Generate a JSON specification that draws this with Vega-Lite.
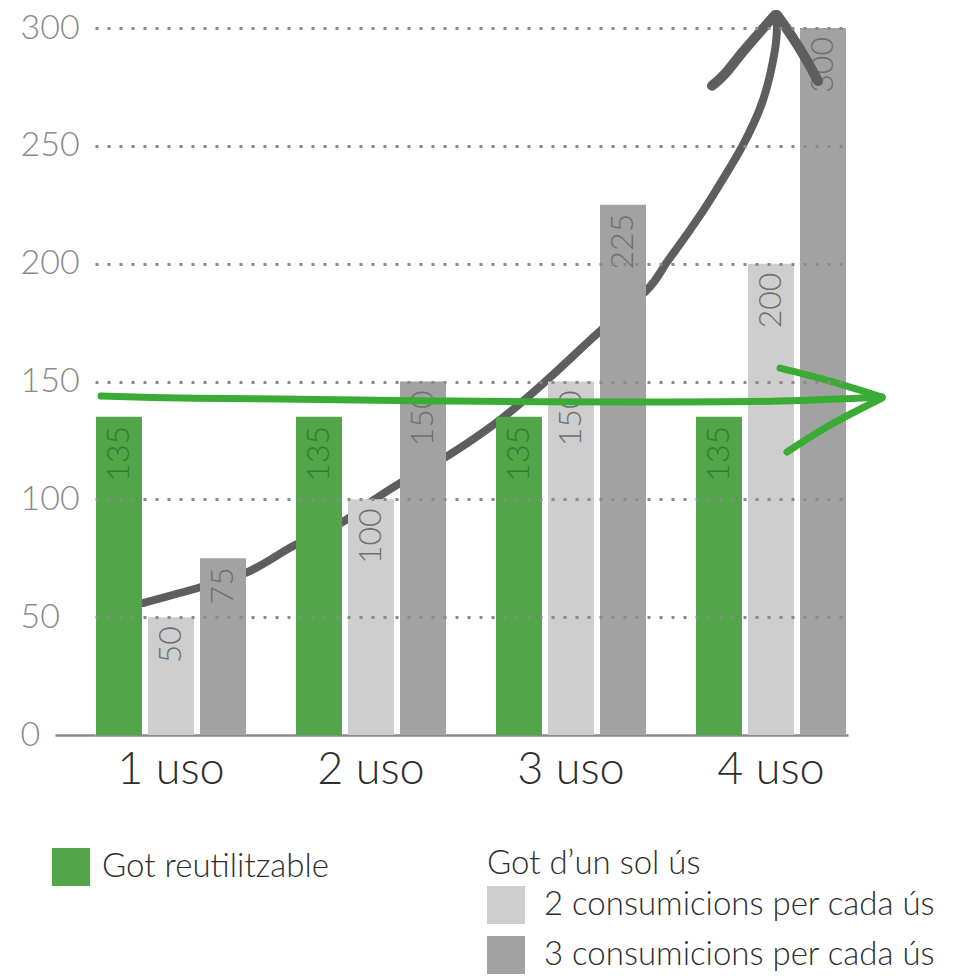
{
  "$schema": "https://vega.github.io/schema/vega-lite/v6.json",
  "width": 753,
  "height": 707,
  "autosize": {"type": "none"},
  "padding": {"left": 95, "top": 28, "right": 106, "bottom": 241},
  "background": "white",
  "config": {"view": {"stroke": null}, "font": "Lato"},
  "datasets": {
    "bars": [
      {"uso": "1 uso", "serie": "Got reutilitzable", "valor": 135},
      {"uso": "1 uso", "serie": "2 consumicions per cada ús", "valor": 50},
      {"uso": "1 uso", "serie": "3 consumicions per cada ús", "valor": 75},
      {"uso": "2 uso", "serie": "Got reutilitzable", "valor": 135},
      {"uso": "2 uso", "serie": "2 consumicions per cada ús", "valor": 100},
      {"uso": "2 uso", "serie": "3 consumicions per cada ús", "valor": 150},
      {"uso": "3 uso", "serie": "Got reutilitzable", "valor": 135},
      {"uso": "3 uso", "serie": "2 consumicions per cada ús", "valor": 150},
      {"uso": "3 uso", "serie": "3 consumicions per cada ús", "valor": 225},
      {"uso": "4 uso", "serie": "Got reutilitzable", "valor": 135},
      {"uso": "4 uso", "serie": "2 consumicions per cada ús", "valor": 200},
      {"uso": "4 uso", "serie": "3 consumicions per cada ús", "valor": 300}
    ],
    "arrows": [
      {"arrow": "grey", "seg": "curve", "i": 1, "u": 0.86, "v": 56.0},
      {"arrow": "grey", "seg": "curve", "i": 2, "u": 1.15, "v": 62.8},
      {"arrow": "grey", "seg": "curve", "i": 3, "u": 1.385, "v": 69.2},
      {"arrow": "grey", "seg": "curve", "i": 4, "u": 1.62, "v": 80.6},
      {"arrow": "grey", "seg": "curve", "i": 5, "u": 1.85, "v": 90.0},
      {"arrow": "grey", "seg": "curve", "i": 6, "u": 2.02, "v": 100.1},
      {"arrow": "grey", "seg": "curve", "i": 7, "u": 2.145, "v": 106.9},
      {"arrow": "grey", "seg": "curve", "i": 8, "u": 2.385, "v": 118.5},
      {"arrow": "grey", "seg": "curve", "i": 9, "u": 2.645, "v": 133.7},
      {"arrow": "grey", "seg": "curve", "i": 10, "u": 2.88, "v": 150.6},
      {"arrow": "grey", "seg": "curve", "i": 11, "u": 3.14, "v": 171.0},
      {"arrow": "grey", "seg": "curve", "i": 12, "u": 3.38, "v": 188.8},
      {"arrow": "grey", "seg": "curve", "i": 13, "u": 3.48, "v": 200.7},
      {"arrow": "grey", "seg": "curve", "i": 14, "u": 3.595, "v": 214.3},
      {"arrow": "grey", "seg": "curve", "i": 15, "u": 3.695, "v": 227.0},
      {"arrow": "grey", "seg": "curve", "i": 16, "u": 3.86, "v": 250.4},
      {"arrow": "grey", "seg": "curve", "i": 17, "u": 3.96, "v": 269.4},
      {"arrow": "grey", "seg": "curve", "i": 18, "u": 4.02, "v": 290.7},
      {"arrow": "grey", "seg": "curve", "i": 19, "u": 4.03, "v": 304.7},
      {"arrow": "grey", "seg": "wingL", "i": 1, "u": 4.02, "v": 305.5},
      {"arrow": "grey", "seg": "wingL", "i": 2, "u": 3.87, "v": 291.0},
      {"arrow": "grey", "seg": "wingL", "i": 3, "u": 3.77, "v": 280.5},
      {"arrow": "grey", "seg": "wingL", "i": 4, "u": 3.705, "v": 275.5},
      {"arrow": "grey", "seg": "wingR", "i": 1, "u": 4.03, "v": 305.5},
      {"arrow": "grey", "seg": "wingR", "i": 2, "u": 4.1, "v": 297.0},
      {"arrow": "grey", "seg": "wingR", "i": 3, "u": 4.17, "v": 287.5},
      {"arrow": "grey", "seg": "wingR", "i": 4, "u": 4.235, "v": 277.5},
      {"arrow": "green", "seg": "shaft", "i": 1, "u": 0.65, "v": 143.8},
      {"arrow": "green", "seg": "shaft", "i": 2, "u": 1.045, "v": 143.0},
      {"arrow": "green", "seg": "shaft", "i": 3, "u": 1.545, "v": 142.6},
      {"arrow": "green", "seg": "shaft", "i": 4, "u": 2.395, "v": 141.7},
      {"arrow": "green", "seg": "shaft", "i": 5, "u": 3.395, "v": 141.3},
      {"arrow": "green", "seg": "shaft", "i": 6, "u": 4.045, "v": 141.7},
      {"arrow": "green", "seg": "shaft", "i": 7, "u": 4.555, "v": 143.4},
      {"arrow": "green", "seg": "wingU", "i": 1, "u": 4.045, "v": 155.7},
      {"arrow": "green", "seg": "wingU", "i": 2, "u": 4.295, "v": 150.2},
      {"arrow": "green", "seg": "wingU", "i": 3, "u": 4.555, "v": 143.4},
      {"arrow": "green", "seg": "wingD", "i": 1, "u": 4.555, "v": 143.0},
      {"arrow": "green", "seg": "wingD", "i": 2, "u": 4.295, "v": 131.5},
      {"arrow": "green", "seg": "wingD", "i": 3, "u": 4.08, "v": 120.1}
    ]
  },
  "layer": [
    {
      "data": {"name": "arrows"},
      "transform": [{"filter": "datum.seg === 'curve'"}],
      "mark": {"type": "line", "color": "#5e5e5e", "strokeWidth": 8, "strokeCap": "round", "strokeJoin": "round", "interpolate": "cardinal"},
      "encoding": {
        "x": {"field": "u", "type": "quantitative", "scale": {"domain": [0.62, 4.385], "nice": false, "zero": false}, "axis": null},
        "y": {"field": "v", "type": "quantitative", "scale": {"domain": [0, 300], "nice": false},
          "axis": {"values": [0, 50, 100, 150, 200, 250, 300], "title": null, "domain": false, "ticks": true, "tickSize": 40, "tickColor": "#8a8a8a", "tickWidth": 2.5,
            "tickOpacity": {"condition": {"test": "datum.value === 0", "value": 1}, "value": 0},
            "grid": true, "gridColor": "#8a8a8a", "gridDash": [3, 9], "gridWidth": 3,
            "gridOpacity": {"condition": {"test": "datum.value === 0", "value": 0}, "value": 1},
            "labelAlign": "left", "labelPadding": 35, "labelFontSize": 34, "labelColor": "#8a8a8a", "labelFont": "Lato", "labelFontWeight": 300, "zindex": 1}},
        "detail": {"field": "seg"},
        "order": {"field": "i", "type": "quantitative"}
      }
    },
    {
      "data": {"name": "bars"},
      "transform": [{"filter": "datum.serie === 'Got reutilitzable'"}],
      "mark": {"type": "bar"},
      "encoding": {
        "x": {"field": "uso", "type": "nominal", "scale": {"paddingInner": 0.25, "paddingOuter": 0.0075, "align": 0.333},
          "axis": {"title": null, "labelAngle": 0, "ticks": false, "domain": true, "domainColor": "#8a8a8a", "domainWidth": 2.5, "labelFontSize": 45, "labelColor": "#2e2e2e", "labelFont": "Lato", "labelFontWeight": 300, "labelPadding": 12, "grid": false}},
        "xOffset": {"field": "serie", "scale": {"domain": ["Got reutilitzable", "2 consumicions per cada ús", "3 consumicions per cada ús"], "paddingInner": 0.1154, "paddingOuter": 0}},
        "y": {"field": "valor", "type": "quantitative", "scale": {"domain": [0, 300], "nice": false},
          "axis": {"values": [0, 50, 100, 150, 200, 250, 300], "title": null, "domain": false, "ticks": true, "tickSize": 40, "tickColor": "#8a8a8a", "tickWidth": 2.5,
            "tickOpacity": {"condition": {"test": "datum.value === 0", "value": 1}, "value": 0},
            "grid": true, "gridColor": "#8a8a8a", "gridDash": [3, 9], "gridWidth": 3,
            "gridOpacity": {"condition": {"test": "datum.value === 0", "value": 0}, "value": 1},
            "labelAlign": "left", "labelPadding": 35, "labelFontSize": 34, "labelColor": "#8a8a8a", "labelFont": "Lato", "labelFontWeight": 300, "zindex": 1}},
        "color": {"field": "serie", "type": "nominal", "scale": {"domain": ["Got reutilitzable"], "range": ["#52a548"]},
          "legend": {"title": null, "orient": "none", "legendX": -43, "legendY": 820, "padding": 0, "symbolType": "square", "symbolSize": 1444, "symbolStrokeWidth": 0, "symbolOpacity": 1, "labelFontSize": 33, "labelFont": "Lato", "labelFontWeight": 300, "labelColor": "#2e2e2e", "labelOffset": 12, "labelLimit": 600}}
      }
    },
    {
      "data": {"name": "bars"},
      "transform": [{"filter": "datum.serie !== 'Got reutilitzable'"}],
      "mark": {"type": "bar"},
      "encoding": {
        "x": {"field": "uso", "type": "nominal", "scale": {"paddingInner": 0.25, "paddingOuter": 0.0075, "align": 0.333}, "axis": null},
        "xOffset": {"field": "serie", "scale": {"domain": ["Got reutilitzable", "2 consumicions per cada ús", "3 consumicions per cada ús"], "paddingInner": 0.1154, "paddingOuter": 0}},
        "y": {"field": "valor", "type": "quantitative",
          "axis": {"values": [0, 50, 100, 150, 200, 250, 300], "title": null, "domain": false, "ticks": true, "tickSize": 40, "tickColor": "#8a8a8a", "tickWidth": 2.5,
            "tickOpacity": {"condition": {"test": "datum.value === 0", "value": 1}, "value": 0},
            "grid": true, "gridColor": "#8a8a8a", "gridDash": [3, 9], "gridWidth": 3,
            "gridOpacity": {"condition": {"test": "datum.value === 0", "value": 0}, "value": 1},
            "labelAlign": "left", "labelPadding": 35, "labelFontSize": 34, "labelColor": "#8a8a8a", "labelFont": "Lato", "labelFontWeight": 300, "zindex": 1}},
        "color": {"field": "serie", "type": "nominal", "scale": {"domain": ["2 consumicions per cada ús", "3 consumicions per cada ús"], "range": ["#cecece", "#a2a2a2"]},
          "legend": {"title": "Got d’un sol ús", "orient": "none", "legendX": 392, "legendY": 820, "padding": 0, "titleFontSize": 33, "titleFont": "Lato", "titleFontWeight": 300, "titleColor": "#2e2e2e", "titlePadding": 5, "titleLimit": 600, "symbolType": "square", "symbolSize": 1444, "symbolStrokeWidth": 0, "symbolOpacity": 1, "labelFontSize": 33, "labelFont": "Lato", "labelFontWeight": 300, "labelColor": "#2e2e2e", "labelOffset": 19, "labelLimit": 600, "rowPadding": 12}}
      }
    },
    {
      "data": {"name": "bars"},
      "transform": [{"filter": "datum.serie === 'Got reutilitzable'"}],
      "mark": {"type": "text", "angle": 270, "align": "right", "baseline": "middle", "dx": -9, "fontSize": 32, "font": "Lato", "fontWeight": 300, "color": "#357a35"},
      "encoding": {
        "x": {"field": "uso", "type": "nominal", "scale": {"paddingInner": 0.25, "paddingOuter": 0.0075, "align": 0.333}, "axis": null},
        "xOffset": {"field": "serie", "scale": {"domain": ["Got reutilitzable", "2 consumicions per cada ús", "3 consumicions per cada ús"], "paddingInner": 0.1154, "paddingOuter": 0}},
        "y": {"field": "valor", "type": "quantitative",
          "axis": {"values": [0, 50, 100, 150, 200, 250, 300], "title": null, "domain": false, "ticks": true, "tickSize": 40, "tickColor": "#8a8a8a", "tickWidth": 2.5,
            "tickOpacity": {"condition": {"test": "datum.value === 0", "value": 1}, "value": 0},
            "grid": true, "gridColor": "#8a8a8a", "gridDash": [3, 9], "gridWidth": 3,
            "gridOpacity": {"condition": {"test": "datum.value === 0", "value": 0}, "value": 1},
            "labelAlign": "left", "labelPadding": 35, "labelFontSize": 34, "labelColor": "#8a8a8a", "labelFont": "Lato", "labelFontWeight": 300, "zindex": 1}},
        "text": {"field": "valor", "type": "quantitative"}
      }
    },
    {
      "data": {"name": "bars"},
      "transform": [{"filter": "datum.serie !== 'Got reutilitzable'"}],
      "mark": {"type": "text", "angle": 270, "align": "right", "baseline": "middle", "dx": -9, "fontSize": 32, "font": "Lato", "fontWeight": 300, "color": "#6f6f6f"},
      "encoding": {
        "x": {"field": "uso", "type": "nominal", "scale": {"paddingInner": 0.25, "paddingOuter": 0.0075, "align": 0.333}, "axis": null},
        "xOffset": {"field": "serie", "scale": {"domain": ["Got reutilitzable", "2 consumicions per cada ús", "3 consumicions per cada ús"], "paddingInner": 0.1154, "paddingOuter": 0}},
        "y": {"field": "valor", "type": "quantitative",
          "axis": {"values": [0, 50, 100, 150, 200, 250, 300], "title": null, "domain": false, "ticks": true, "tickSize": 40, "tickColor": "#8a8a8a", "tickWidth": 2.5,
            "tickOpacity": {"condition": {"test": "datum.value === 0", "value": 1}, "value": 0},
            "grid": true, "gridColor": "#8a8a8a", "gridDash": [3, 9], "gridWidth": 3,
            "gridOpacity": {"condition": {"test": "datum.value === 0", "value": 0}, "value": 1},
            "labelAlign": "left", "labelPadding": 35, "labelFontSize": 34, "labelColor": "#8a8a8a", "labelFont": "Lato", "labelFontWeight": 300, "zindex": 1}},
        "text": {"field": "valor", "type": "quantitative"}
      }
    },
    {
      "data": {"name": "arrows"},
      "transform": [{"filter": "datum.arrow === 'grey' && datum.seg !== 'curve'"}],
      "mark": {"type": "line", "color": "#5e5e5e", "strokeWidth": 10, "strokeCap": "round", "strokeJoin": "round", "interpolate": "cardinal"},
      "encoding": {
        "x": {"field": "u", "type": "quantitative", "scale": {"domain": [0.62, 4.385], "nice": false, "zero": false}, "axis": null},
        "y": {"field": "v", "type": "quantitative",
          "axis": {"values": [0, 50, 100, 150, 200, 250, 300], "title": null, "domain": false, "ticks": true, "tickSize": 40, "tickColor": "#8a8a8a", "tickWidth": 2.5,
            "tickOpacity": {"condition": {"test": "datum.value === 0", "value": 1}, "value": 0},
            "grid": true, "gridColor": "#8a8a8a", "gridDash": [3, 9], "gridWidth": 3,
            "gridOpacity": {"condition": {"test": "datum.value === 0", "value": 0}, "value": 1},
            "labelAlign": "left", "labelPadding": 35, "labelFontSize": 34, "labelColor": "#8a8a8a", "labelFont": "Lato", "labelFontWeight": 300, "zindex": 1}},
        "detail": {"field": "seg"},
        "order": {"field": "i", "type": "quantitative"}
      }
    },
    {
      "data": {"name": "arrows"},
      "transform": [{"filter": "datum.arrow === 'green'"}],
      "mark": {"type": "line", "color": "#3aab35", "strokeWidth": 7, "strokeCap": "round", "strokeJoin": "round", "interpolate": "cardinal"},
      "encoding": {
        "x": {"field": "u", "type": "quantitative", "scale": {"domain": [0.62, 4.385], "nice": false, "zero": false}, "axis": null},
        "y": {"field": "v", "type": "quantitative",
          "axis": {"values": [0, 50, 100, 150, 200, 250, 300], "title": null, "domain": false, "ticks": true, "tickSize": 40, "tickColor": "#8a8a8a", "tickWidth": 2.5,
            "tickOpacity": {"condition": {"test": "datum.value === 0", "value": 1}, "value": 0},
            "grid": true, "gridColor": "#8a8a8a", "gridDash": [3, 9], "gridWidth": 3,
            "gridOpacity": {"condition": {"test": "datum.value === 0", "value": 0}, "value": 1},
            "labelAlign": "left", "labelPadding": 35, "labelFontSize": 34, "labelColor": "#8a8a8a", "labelFont": "Lato", "labelFontWeight": 300, "zindex": 1}},
        "detail": {"field": "seg"},
        "order": {"field": "i", "type": "quantitative"}
      }
    }
  ],
  "resolve": {"scale": {"x": "independent", "color": "independent"}}
}
